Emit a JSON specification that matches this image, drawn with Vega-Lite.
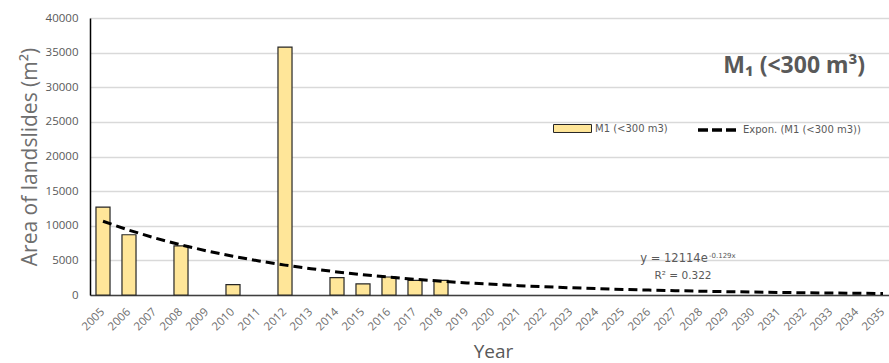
{
  "$schema": "https://vega.github.io/schema/vega-lite/v6.json",
  "width": 799,
  "height": 277,
  "autosize": {"type": "none"},
  "padding": {"left": 90, "top": 18, "right": 0, "bottom": 68},
  "background": "white",
  "config": {
    "font": "Open Sans",
    "view": {"stroke": null},
    "axis": {"labelColor": "#595959", "titleColor": "#6e6e6e", "titleFontWeight": "normal", "ticks": false}
  },
  "title": {
    "text": "M₁ (<300 m³)",
    "orient": "top",
    "anchor": "end",
    "frame": "group",
    "offset": -84,
    "dx": -24,
    "baseline": "alphabetic",
    "fontSize": 23,
    "fontWeight": "bold",
    "font": "Noto Sans",
    "color": "#595959"
  },
  "datasets": {
    "observed": [
      {"Year": "2005", "area": 12700, "series": "M1 (<300 m3)"},
      {"Year": "2006", "area": 8700, "series": "M1 (<300 m3)"},
      {"Year": "2008", "area": 7100, "series": "M1 (<300 m3)"},
      {"Year": "2010", "area": 1500, "series": "M1 (<300 m3)"},
      {"Year": "2012", "area": 35800, "series": "M1 (<300 m3)"},
      {"Year": "2014", "area": 2500, "series": "M1 (<300 m3)"},
      {"Year": "2015", "area": 1600, "series": "M1 (<300 m3)"},
      {"Year": "2016", "area": 2600, "series": "M1 (<300 m3)"},
      {"Year": "2017", "area": 2100, "series": "M1 (<300 m3)"},
      {"Year": "2018", "area": 2100, "series": "M1 (<300 m3)"}
    ],
    "trend": [
      {"Year": "2005", "area": 10648, "series": "Expon. (M1 (<300 m3))"},
      {"Year": "2006", "area": 9359, "series": "Expon. (M1 (<300 m3))"},
      {"Year": "2007", "area": 8227, "series": "Expon. (M1 (<300 m3))"},
      {"Year": "2008", "area": 7231, "series": "Expon. (M1 (<300 m3))"},
      {"Year": "2009", "area": 6356, "series": "Expon. (M1 (<300 m3))"},
      {"Year": "2010", "area": 5587, "series": "Expon. (M1 (<300 m3))"},
      {"Year": "2011", "area": 4910, "series": "Expon. (M1 (<300 m3))"},
      {"Year": "2012", "area": 4316, "series": "Expon. (M1 (<300 m3))"},
      {"Year": "2013", "area": 3794, "series": "Expon. (M1 (<300 m3))"},
      {"Year": "2014", "area": 3335, "series": "Expon. (M1 (<300 m3))"},
      {"Year": "2015", "area": 2931, "series": "Expon. (M1 (<300 m3))"},
      {"Year": "2016", "area": 2576, "series": "Expon. (M1 (<300 m3))"},
      {"Year": "2017", "area": 2265, "series": "Expon. (M1 (<300 m3))"},
      {"Year": "2018", "area": 1990, "series": "Expon. (M1 (<300 m3))"},
      {"Year": "2019", "area": 1750, "series": "Expon. (M1 (<300 m3))"},
      {"Year": "2020", "area": 1538, "series": "Expon. (M1 (<300 m3))"},
      {"Year": "2021", "area": 1352, "series": "Expon. (M1 (<300 m3))"},
      {"Year": "2022", "area": 1188, "series": "Expon. (M1 (<300 m3))"},
      {"Year": "2023", "area": 1044, "series": "Expon. (M1 (<300 m3))"},
      {"Year": "2024", "area": 918, "series": "Expon. (M1 (<300 m3))"},
      {"Year": "2025", "area": 807, "series": "Expon. (M1 (<300 m3))"},
      {"Year": "2026", "area": 709, "series": "Expon. (M1 (<300 m3))"},
      {"Year": "2027", "area": 623, "series": "Expon. (M1 (<300 m3))"},
      {"Year": "2028", "area": 548, "series": "Expon. (M1 (<300 m3))"},
      {"Year": "2029", "area": 482, "series": "Expon. (M1 (<300 m3))"},
      {"Year": "2030", "area": 423, "series": "Expon. (M1 (<300 m3))"},
      {"Year": "2031", "area": 372, "series": "Expon. (M1 (<300 m3))"},
      {"Year": "2032", "area": 327, "series": "Expon. (M1 (<300 m3))"},
      {"Year": "2033", "area": 288, "series": "Expon. (M1 (<300 m3))"},
      {"Year": "2034", "area": 253, "series": "Expon. (M1 (<300 m3))"},
      {"Year": "2035", "area": 222, "series": "Expon. (M1 (<300 m3))"}
    ],
    "equation": [
      {"Year": "2027", "area": 5200, "text": "y = 12114e"}
    ],
    "exponent": [
      {"Year": "2027", "area": 5600, "text": "-0.129x"}
    ],
    "fit": [
      {"Year": "2027", "area": 2750, "text": "R² = 0.322"}
    ]
  },
  "encoding": {
    "x": {
      "field": "Year",
      "type": "ordinal",
      "scale": {"range": [0, 806], "paddingInner": 0.46, "paddingOuter": 0.23},
      "axis": {
        "title": "Year",
        "titleFontSize": 19,
        "titleColor": "#595959",
        "titlePadding": 10,
        "labelAngle": -45,
        "labelAlign": "right",
        "labelBaseline": "middle",
        "labelFontSize": 11.5,
        "labelColor": "#6e6e6e",
        "labelPadding": 15,
        "domainColor": "#404040",
        "domainWidth": 1.5,
        "grid": false
      }
    },
    "y": {
      "field": "area",
      "type": "quantitative",
      "scale": {"domain": [0, 40000], "nice": false},
      "axis": {
        "title": "Area of landslides (m²)",
        "titleFontSize": 21,
        "titlePadding": 5,
        "format": "d",
        "values": [0, 5000, 10000, 15000, 20000, 25000, 30000, 35000, 40000],
        "labelFontSize": 11.5,
        "labelPadding": 12,
        "domainColor": "#000000",
        "domainWidth": 1.5,
        "gridColor": "#d9d9d9",
        "gridWidth": 1.5
      }
    }
  },
  "layer": [
    {
      "data": {"name": "observed"},
      "mark": {"type": "bar", "stroke": "#262626", "strokeWidth": 1.2},
      "encoding": {
        "fill": {
          "field": "series",
          "type": "nominal",
          "scale": {"domain": ["M1 (<300 m3)"], "range": ["#ffe699"]},
          "legend": {
            "title": null,
            "orient": "none",
            "legendX": 463,
            "legendY": 91,
            "padding": 0,
            "symbolType": "M-1,-0.21H1V0.21H-1Z",
            "symbolSize": 1444,
            "symbolStrokeColor": "#262626",
            "symbolStrokeWidth": 1,
            "symbolOpacity": 1,
            "labelFont": "DejaVu Sans",
            "labelFontSize": 10,
            "labelColor": "#595959",
            "labelOffset": 3
          }
        }
      }
    },
    {
      "data": {"name": "trend"},
      "mark": {"type": "line", "strokeWidth": 3, "strokeDash": [9, 5]},
      "encoding": {
        "stroke": {
          "field": "series",
          "type": "nominal",
          "scale": {"domain": ["Expon. (M1 (<300 m3))"], "range": ["#000000"]},
          "legend": {
            "title": null,
            "orient": "none",
            "legendX": 606,
            "legendY": 91,
            "padding": 0,
            "symbolType": "M-1,0H1",
            "symbolSize": 1444,
            "symbolStrokeWidth": 3.5,
            "symbolDash": [10, 4],
            "labelFont": "DejaVu Sans",
            "labelFontSize": 10,
            "labelColor": "#595959",
            "labelOffset": 5
          }
        }
      }
    },
    {
      "data": {"name": "equation"},
      "mark": {"type": "text", "font": "DejaVu Sans", "fontSize": 11.5, "color": "#595959", "align": "center", "baseline": "middle", "dx": -1},
      "encoding": {"text": {"field": "text"}}
    },
    {
      "data": {"name": "exponent"},
      "mark": {"type": "text", "font": "DejaVu Sans", "fontSize": 7, "color": "#595959", "align": "left", "baseline": "middle", "dx": 34},
      "encoding": {"text": {"field": "text"}}
    },
    {
      "data": {"name": "fit"},
      "mark": {"type": "text", "font": "DejaVu Sans", "fontSize": 10.5, "color": "#595959", "align": "center", "baseline": "middle", "dx": 8},
      "encoding": {"text": {"field": "text"}}
    }
  ]
}
